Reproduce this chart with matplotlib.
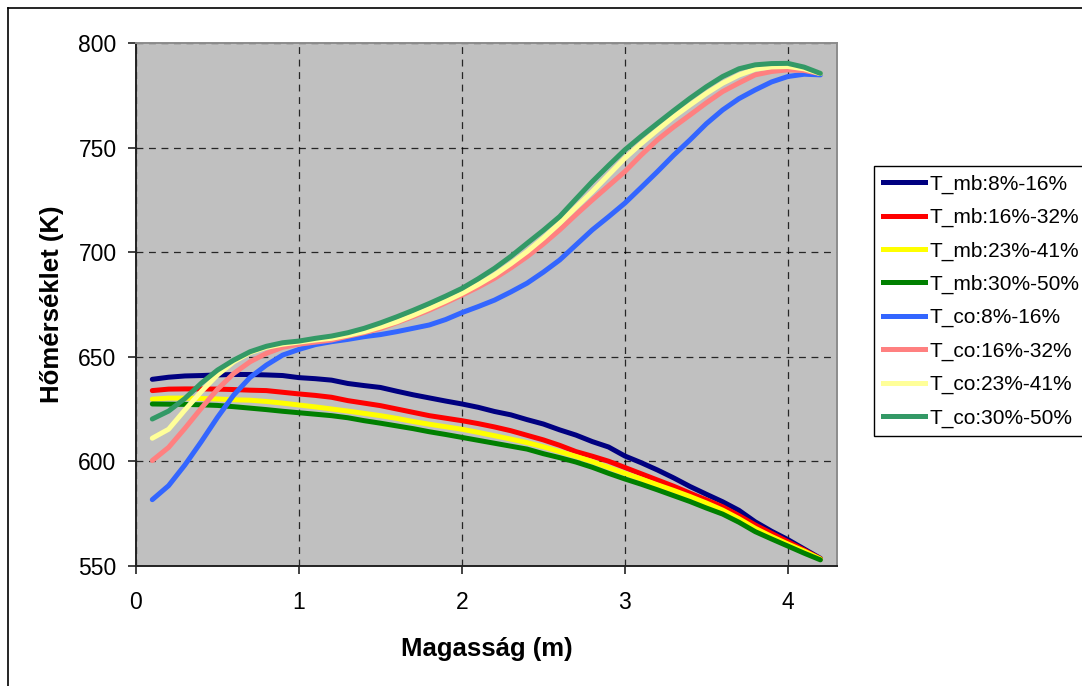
import numpy as np
import matplotlib
matplotlib.use("Agg")
import matplotlib.pyplot as plt
from matplotlib.lines import Line2D

plt.rcParams['font.family'] = ['Liberation Sans', 'DejaVu Sans']

# Height (m)
x = [0.1, 0.2, 0.3, 0.4, 0.5, 0.6, 0.7, 0.8, 0.9, 1.0,
     1.1, 1.2, 1.3, 1.4, 1.5, 1.6, 1.7, 1.8, 1.9, 2.0,
     2.1, 2.2, 2.3, 2.4, 2.5, 2.6, 2.7, 2.8, 2.9, 3.0,
     3.1, 3.2, 3.3, 3.4, 3.5, 3.6, 3.7, 3.8, 3.9, 4.0,
     4.1, 4.2]

t_mb_8_16 = [639.2, 640.2, 640.8, 641.0, 641.3, 641.5, 641.5, 641.3, 641.0, 640.0,
             639.5, 638.8, 637.2, 636.2, 635.3, 633.5, 631.8, 630.3, 628.8, 627.4,
             625.8, 623.8, 622.2, 619.9, 617.8, 615.0, 612.5, 609.4, 606.8, 602.5,
             599.3, 595.8, 592.0, 587.9, 584.2, 580.6, 576.5, 571.0, 566.5, 562.5,
             558.0, 553.5]
t_mb_16_32 = [633.8, 634.5, 634.6, 634.6, 634.5, 634.3, 634.0, 633.8, 633.0, 632.2,
              631.5, 630.6, 629.0, 627.8, 626.6, 625.0, 623.4, 621.8, 620.6, 619.4,
              618.0, 616.4, 614.6, 612.4, 610.2, 607.6, 604.6, 602.4, 600.0, 597.0,
              594.0, 591.0, 588.0, 584.7, 581.5, 578.2, 574.0, 569.5, 565.5, 561.5,
              557.5, 553.3]
t_mb_23_41 = [629.7, 630.2, 630.2, 630.0, 629.8, 629.4, 629.2, 628.6, 627.8, 626.9,
              626.0, 625.0, 624.0, 622.9, 621.8, 620.5, 619.0, 617.7, 616.5, 615.3,
              613.8, 612.2, 610.6, 608.9, 606.9, 604.6, 602.3, 599.8, 597.0, 594.2,
              591.5, 588.7, 586.0, 583.1, 580.0, 576.6, 572.5, 567.9, 564.0, 560.4,
              557.0, 553.2]
t_mb_30_50 = [627.4, 627.3, 627.2, 627.0, 626.7, 626.1, 625.4, 624.7, 623.9, 623.2,
              622.5, 621.8, 620.8, 619.4, 618.2, 616.9, 615.6, 614.1, 612.8, 611.4,
              610.0, 608.6, 607.2, 605.8, 603.6, 601.7, 599.6, 597.1, 594.2, 591.5,
              589.0, 586.3, 583.5, 580.7, 577.6, 574.7, 570.8, 566.3, 562.8, 559.4,
              556.0, 552.8]
t_co_8_16 = [581.6, 588.3, 598.2, 609.3, 621.0, 631.7, 640.1, 646.0, 650.8, 653.5,
             655.8, 657.2, 658.3, 659.6, 660.6, 662.0, 663.6, 665.2, 667.8, 671.1,
             674.0, 677.1, 681.0, 685.2, 690.5, 696.3, 703.5, 710.7, 717.0, 723.5,
             731.0, 738.6, 746.5, 753.8, 761.5, 768.1, 773.5, 777.7, 781.5, 784.1,
             785.2, 784.9]
t_co_16_32 = [600.3, 606.6, 615.7, 625.3, 634.4, 642.0, 647.6, 651.6, 654.5, 656.0,
              657.0, 658.0, 659.8, 661.5, 663.5, 666.3, 669.2, 672.3, 675.8, 679.5,
              683.3, 687.5, 692.5, 697.9, 704.0, 710.7, 718.0, 725.0, 731.8, 738.6,
              746.5, 753.8, 760.0, 765.7, 771.5, 776.9, 781.0, 784.9, 786.5, 787.3,
              787.0, 785.5]
t_co_23_41 = [611.0, 615.3, 624.5, 633.3, 641.3, 647.6, 652.0, 654.5, 656.0, 657.0,
              658.0, 658.8, 660.3, 662.0, 664.2, 666.7, 669.8, 673.1, 676.6, 680.3,
              684.5, 689.1, 694.5, 700.3, 706.8, 713.9, 721.5, 729.0, 737.0, 745.0,
              752.0, 758.5, 764.8, 770.5, 776.0, 780.9, 784.8, 787.6, 788.7, 788.9,
              787.8, 785.5]
t_co_30_50 = [620.2, 624.0, 630.0, 637.3, 643.6, 648.4, 652.4, 655.0, 656.7, 657.5,
              658.8, 659.9, 661.5, 663.6, 666.2, 669.1, 672.2, 675.5, 679.0, 682.7,
              687.3, 692.3, 698.0, 704.3, 710.5, 717.1, 725.5, 733.8, 741.5, 749.0,
              755.5, 761.7, 767.8, 773.7, 779.2, 784.1, 787.8, 789.7, 790.3, 790.4,
              788.6, 785.6]

labels = ["T_mb:8%-16%", "T_mb:16%-32%", "T_mb:23%-41%", "T_mb:30%-50%",
          "T_co:8%-16%", "T_co:16%-32%", "T_co:23%-41%", "T_co:30%-50%"]
series = [t_mb_8_16, t_mb_16_32, t_mb_23_41, t_mb_30_50,
          t_co_8_16, t_co_16_32, t_co_23_41, t_co_30_50]
colors = ["#000080", "#FF0000", "#FFFF00", "#008000",
          "#3366FF", "#FF8080", "#FFFF99", "#339966"]

xticks = [0, 1, 2, 3, 4]
yticks = [550, 600, 650, 700, 750, 800]

W, H = 1082, 686
fig = plt.figure(figsize=(W / 100, H / 100), dpi=100)
ax = fig.add_axes([136 / W, 1 - 565.7 / H, (836.7 - 136) / W, (565.7 - 43.3) / H])
ax.set_facecolor("#C0C0C0")

for s, c, lab in zip(series, colors, labels):
    ax.plot(x, s, color=c, lw=3.6, label=lab, solid_capstyle='round',
            solid_joinstyle='round')

ax.set_xlim(0, 4.3)
ax.set_ylim(550, 800)
ax.set_xticks(xticks)
ax.set_yticks(yticks)
ax.grid(True, color="black", linestyle=(0, (5.5, 4.5)), linewidth=0.9, alpha=0.8)
ax.set_axisbelow(True)
ax.tick_params(axis='both', direction='out', length=6, width=1.2, labelsize=16.5,
               color="#222222")
ax.tick_params(axis='x', pad=12)
ax.tick_params(axis='y', pad=8)
for side in ("left", "bottom"):
    ax.spines[side].set_color("#222222")
    ax.spines[side].set_linewidth(1.4)
for side in ("top", "right"):
    ax.spines[side].set_color("#8C8C8C")
    ax.spines[side].set_linewidth(1.4)

ax.set_xlabel("Magasság (m)", fontsize=18.5, fontweight='bold', labelpad=17)
ax.set_ylabel("Hőmérséklet (K)", fontsize=18.5, fontweight='bold', labelpad=10)

handles = [Line2D([0], [0], color=c, lw=3.6) for c in colors]
leg = fig.legend(handles, labels, loc='upper left',
                 bbox_to_anchor=(874 / W, 1 - 165.7 / H),
                 bbox_transform=fig.transFigure, fontsize=15, frameon=True,
                 fancybox=False, edgecolor='black', framealpha=1,
                 borderaxespad=0, borderpad=0.42, labelspacing=0.68,
                 handlelength=2.05, handletextpad=0.2)
leg.get_frame().set_linewidth(1.0)

# outer chart border
fig.add_artist(Line2D([8 / W, 8 / W], [1 - 8 / H, 0.0], color='black', lw=1.2,
                      transform=fig.transFigure))
fig.add_artist(Line2D([8 / W, 1.0], [1 - 8 / H, 1 - 8 / H], color='black', lw=1.2,
                      transform=fig.transFigure))

fig.savefig("out.png", dpi=100)
